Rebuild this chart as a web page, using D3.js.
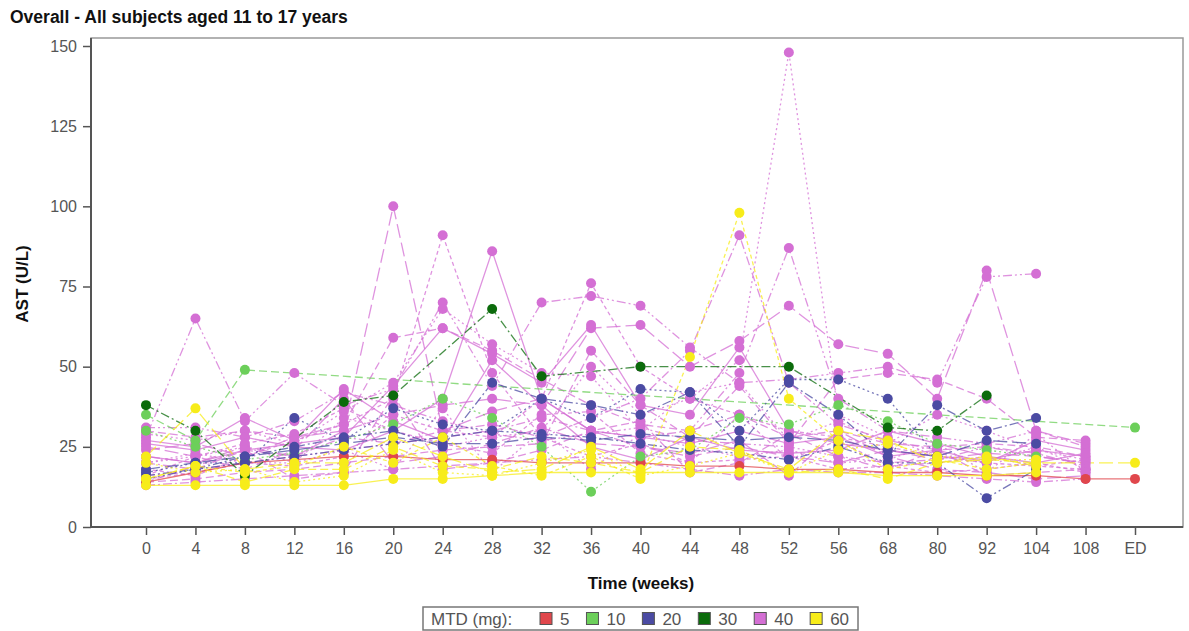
<!DOCTYPE html>
<html>
<head>
<meta charset="utf-8">
<script src="https://cdn.jsdelivr.net/npm/d3@7"></script>
<style>
  body { margin: 0; background: #fff; }
  svg { display: block; font-family: "Liberation Sans", Arial, sans-serif; }
</style>
</head>
<body>
<svg id="chart" width="1189" height="631"></svg>
<script>
const weeks = ["0","4","8","12","16","20","24","28","32","36","40","44","48","52","56","68","80","92","104","108","ED"]
const yTicks = [0, 25, 50, 75, 100, 125, 150]
const doses = ["5", "10", "20", "30", "40", "60"]
const doseColors = ["#e0474c", "#6ccf5a", "#4b4ba3", "#0b6b0b", "#d46fd4", "#f7ec1a"]
const dashes = ["", "8,4", "2,3", "9,3,2,3", "9,3,2,3,2,3", "14,5", "4,3"]

// one row per subject, values at each visit of weeks[] (null = no visit)
const dose5 = [
  [14,17,20,21,22,22,21,21,20,20,20,19,19,18,18,17,17,16,16,15,15]
]
const dose10 = [
  [35,27,49,null,null,null,null,null,null,null,null,null,null,null,null,null,null,null,null,null,31],
  [30,25,21,23,27,32,40,34,25,11,22,24,34,32,38,33,26,24,22,null,null]
]
const dose20 = [
  [17,20,20,34,27,37,32,30,40,34,43,42,30,46,46,40,22,null,null,null,null],
  [16,18,22,25,28,30,25,45,40,38,35,42,25,45,35,22,38,30,34,null,null],
  [15,18,20,22,24,26,28,30,29,28,26,24,23,21,25,20,20,9,18,null,null],
  [18,20,22,24,26,28,26,26,28,27,29,28,27,28,27,24,22,27,26,null,null]
]
const dose30 = [
  [38,30,16,null,39,41,null,68,47,null,50,null,null,50,null,31,30,41,null,null,null]
]
const dose40 = [
  [28,65,33,48,38,43,70,44,70,72,69,56,45,46,48,50,45,78,79,null,null],
  [22,20,25,22,30,100,30,36,40,30,25,22,25,22,20,24,21,23,22,20,null],
  [18,16,22,27,32,40,91,48,28,22,26,20,21,22,18,19,20,22,19,21,null],
  [26,24,28,25,24,30,40,86,40,30,28,26,30,26,28,22,24,20,27,24,null],
  [30,28,30,28,32,59,62,55,46,38,32,30,35,28,30,26,25,26,25,22,null],
  [20,22,25,20,34,30,25,28,30,50,35,40,52,148,35,28,22,20,25,18,null],
  [20,18,24,22,28,26,30,32,28,34,40,55,91,45,32,27,24,25,22,20,null],
  [16,18,20,22,24,26,28,30,34,30,28,30,48,87,40,30,28,26,30,25,null],
  [24,26,22,28,30,35,38,40,38,62,63,50,58,69,57,54,40,80,30,26,null],
  [15,17,20,19,22,35,30,28,40,76,50,40,35,30,28,25,22,20,19,18,null],
  [22,20,24,26,28,44,62,54,45,63,38,35,56,30,26,24,22,21,24,22,null],
  [14,15,17,18,20,22,24,25,26,55,38,28,44,26,46,48,46,40,28,27,null],
  [29,27,30,26,36,45,68,57,48,47,30,42,45,27,33,26,35,30,24,21,null],
  [13,14,15,16,17,18,19,20,21,22,20,18,16,18,17,17,16,15,14,15,null],
  [31,31,28,33,42,38,33,29,27,29,31,27,26,25,22,20,21,25,23,19,null],
  [25,22,18,24,40,20,22,26,31,26,25,23,27,16,30,22,18,17,15,16,null],
  [16,22,26,29,37,30,26,23,35,36,23,20,35,21,27,19,17,18,20,17,null],
  [27,25,34,27,43,33,27,52,38,25,21,28,24,23,24,30,26,22,20,23,null],
  [14,19,24,15,17,41,18,20,24,30,33,17,20,29,22,18,24,16,17,18,null],
  [20,23,20,20,24,18,37,17,30,18,29,25,22,24,20,21,26,17,29,17,null]
]
const dose60 = [
  [22,37,18,20,20,28,22,17,18,25,18,30,23,18,30,27,20,21,20,null,20],
  [15,19,17,19,25,20,28,19,16,22,15,53,98,40,27,18,21,18,20,null,null],
  [13,13,13,13,13,15,15,16,17,17,17,17,17,17,17,16,16,16,17,null,null],
  [15,19,14,18,18,25,19,18,22,20,17,25,24,17,18,15,20,22,19,null,null],
  [20,17,18,14,16,24,17,16,20,24,16,19,23,17,24,26,22,21,21,null,null]
]

const groups = [dose5, dose10, dose20, dose30, dose40, dose60]
const subjects = []
groups.forEach((g, gi) => {
  g.forEach((vals, si) => {
    subjects.push({
      dose: gi,
      dash: dashes[(si + gi) % dashes.length],
      pts: vals.map((v, i) => ({ week: weeks[i], v })).filter(p => p.v !== null)
    })
  })
})

const svg = d3.select('#chart')
const plotL = 91, plotR = 1183, plotT = 38, plotB = 527

const x = d3.scalePoint().domain(weeks).range([146, 1135])
const y = d3.scaleLinear().domain([0, 150]).range([plotB, 46])

svg.append('text')
  .attr('x', 10).attr('y', 23)
  .attr('font-size', 17.5).attr('font-weight', 'bold').attr('fill', '#111')
  .text('Overall - All subjects aged 11 to 17 years')

// frame
svg.append('rect')
  .attr('x', plotL).attr('y', plotT)
  .attr('width', plotR - plotL).attr('height', plotB - plotT)
  .attr('fill', 'none').attr('stroke', '#999').attr('stroke-width', 1.5)

const line = d3.line().x(d => x(d.week)).y(d => y(d.v))

// draw pink first so other doses sit on top
const order = [4, 0, 1, 2, 3, 5]
const sorted = order.flatMap(o => subjects.filter(s => s.dose === o))

svg.append('g')
  .selectAll('path')
  .data(sorted)
  .join('path')
  .attr('d', d => line(d.pts))
  .attr('fill', 'none')
  .attr('stroke', d => doseColors[d.dose])
  .attr('stroke-opacity', 0.75)
  .attr('stroke-width', 1.3)
  .attr('stroke-dasharray', d => d.dash)

svg.append('g')
  .selectAll('g')
  .data(sorted)
  .join('g')
  .selectAll('circle')
  .data(d => d.pts.map(p => ({ ...p, dose: d.dose })))
  .join('circle')
  .attr('cx', d => x(d.week))
  .attr('cy', d => y(d.v))
  .attr('r', 5)
  .attr('fill', d => doseColors[d.dose])

// axes
const yAxis = svg.append('g')
  .attr('transform', `translate(${plotL},0)`)
  .call(d3.axisLeft(y).tickValues(yTicks).tickSize(8).tickPadding(6))
yAxis.select('.domain').attr('stroke', '#555').attr('stroke-width', 2)
  .attr('d', `M0,${plotT}V${plotB}`)

const xAxis = svg.append('g')
  .attr('transform', `translate(0,${plotB})`)
  .call(d3.axisBottom(x).tickSize(8).tickPadding(8))
xAxis.select('.domain').attr('stroke', '#555').attr('stroke-width', 2)
  .attr('d', `M${plotL},0H${plotR}`)

svg.selectAll('.tick line').attr('stroke', '#555').attr('stroke-width', 1.5)
svg.selectAll('.tick text').attr('font-size', 16).attr('fill', '#555')
  .attr('font-family', '"Liberation Sans", Arial, sans-serif')

svg.append('text')
  .attr('transform', `translate(28,284) rotate(-90)`)
  .attr('text-anchor', 'middle')
  .attr('font-size', 17).attr('font-weight', 'bold').attr('fill', '#111')
  .text('AST (U/L)')

svg.append('text')
  .attr('x', 641).attr('y', 589)
  .attr('text-anchor', 'middle')
  .attr('font-size', 17).attr('font-weight', 'bold').attr('fill', '#111')
  .text('Time (weeks)')

// legend
const lg = svg.append('g').attr('transform', 'translate(423,607)')
lg.append('rect').attr('width', 435).attr('height', 23)
  .attr('fill', '#fff').attr('stroke', '#777').attr('stroke-width', 1.5)
lg.append('text').attr('x', 8).attr('y', 17.5)
  .attr('font-size', 17).attr('fill', '#555').text('MTD (mg):')

let cursor = 117
doses.forEach((d, i) => {
  const it = lg.append('g').attr('transform', `translate(${cursor},0)`)
  it.append('rect')
    .attr('x', 0).attr('y', 5.5).attr('width', 12).attr('height', 12)
    .attr('fill', doseColors[i]).attr('stroke', '#555')
  const t = it.append('text')
    .attr('x', 20).attr('y', 17.5)
    .attr('font-size', 17).attr('fill', '#555')
    .text(d)
  cursor += 20 + t.node().getComputedTextLength() + 17
})
</script>
</body>
</html>
